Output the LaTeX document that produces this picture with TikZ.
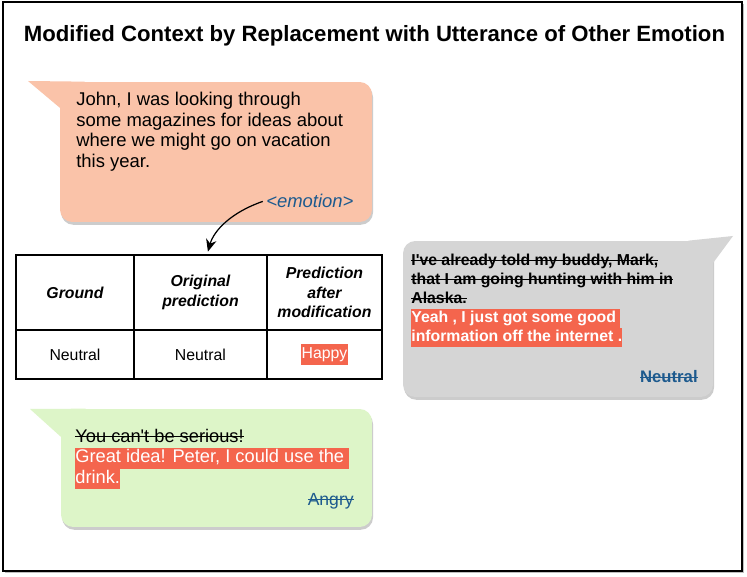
\documentclass[tikz,border=0pt]{standalone}
\usepackage{fontspec}
\setmainfont{Liberation Sans}
\usetikzlibrary{shadows}
\usetikzlibrary{positioning}
\usetikzlibrary{arrows.meta}

\definecolor{peach}{HTML}{FAC3A9}
\definecolor{bubblegray}{HTML}{D5D5D5}
\definecolor{mint}{HTML}{DDF5C8}
\definecolor{hilite}{HTML}{F4654D}
\definecolor{emoblue}{HTML}{1D5A8E}

\newlength{\strikelen}
\newcommand{\strike}[1]{\settowidth{\strikelen}{#1}\rlap{\rule[0.26em]{\strikelen}{0.55pt}}#1}
\newcommand{\hilight}[1]{{\setlength{\fboxsep}{0pt}\colorbox{hilite}{\color{white}\strut #1}}}

\begin{document}
\begin{tikzpicture}
    [x=0.02cm, y=-0.02cm,
    bubble/.style={rounded corners=7pt, inner sep=0pt, drop shadow={shadow xshift=0.6pt, shadow yshift=-1.6pt, opacity=0.4}},
    saytext/.style={anchor=north west, inner sep=0pt, align=left},
    cell/.style={draw, line width=0.75pt, inner sep=0pt, outer sep=0pt, align=center, font=\fontsize{9}{11}\selectfont\bfseries\itshape},
    valcell/.style={cell, font=\fontsize{9}{11}\selectfont},
    emolabel/.style={anchor=base east, inner sep=0pt, text=emoblue}]

    \useasboundingbox (0,0) rectangle (747,577);
    \draw [line width=1.2pt, fill=white, drop shadow={shadow xshift=1pt, shadow yshift=-1pt, opacity=0.5}] (3,2) rectangle (742,571);

    \node[font=\fontsize{12.6}{14}\selectfont\bfseries, anchor=base] (title) at (374.5,42) {Modified Context by Replacement with Utterance of Other Emotion};

    % first speaker
    \node[bubble, fill=peach, minimum width=6.24cm, minimum height=2.8cm] (peach) at (216,152) {};
    \coordinate (peachtip) at (28,81);
    \fill [peach] (peachtip) -- ([xshift=0.5cm]peach.north west) -- ([yshift=-0.52cm]peach.north west) -- cycle;
    \node[saytext, font=\fontsize{10.5}{11.7}\selectfont] (peachtext) at (76,92) {John, I was looking through\\some magazines for ideas about\\where we might go on vacation\\this year.};
    \node[emolabel, font=\fontsize{10.5}{12}\selectfont\itshape, outer sep=2pt] (emotion) at (357,208) {<emotion>};

    % table
    \node[cell, minimum width=2.36cm, minimum height=1.5cm] (ground) at (75,292.5) {Ground};
    \node[cell, minimum width=2.66cm, minimum height=1.5cm, right=0pt of ground] (orig) {Original\\prediction};
    \node[cell, minimum width=2.3cm, minimum height=1.5cm, right=0pt of orig] (after) {Prediction\\after\\modification};
    \node[valcell, minimum width=2.36cm, minimum height=0.98cm, below=0pt of ground] (groundval) {Neutral};
    \node[valcell, minimum width=2.66cm, minimum height=0.98cm, below=0pt of orig] (origval) {Neutral};
    \node[valcell, minimum width=2.3cm, minimum height=0.98cm, below=0pt of after] (afterval) {{\setlength{\fboxsep}{0.6pt}\colorbox{hilite}{\color{white}\strut Happy}}};

    \draw [-{Stealth[length=7pt,width=6pt]}, line width=0.7pt, shorten >=2pt] (emotion.west) .. controls (232,212) and (214,230) .. ([xshift=0.13cm]orig.north);

    % second speaker
    \node[bubble, fill=bubblegray, minimum width=6.2cm, minimum height=3.12cm] (gray) at (558,319) {};
    \coordinate (graytip) at (733,236);
    \fill [bubblegray] (graytip) -- ([xshift=-0.5cm]gray.north east) -- ([yshift=-0.44cm]gray.north east) -- cycle;
    \node[saytext, font=\fontsize{9}{10.8}\selectfont\bfseries] (graytext) at (411,253.5) {\strike{I\textquotesingle ve already told my buddy, Mark,}\\\strike{that I am going hunting with him in}\\\strike{Alaska.}\\\hilight{Yeah , I just got some good\ }\\\hilight{information off the internet .}};
    \node[emolabel, font=\fontsize{9.5}{11}\selectfont\bfseries] (graylabel) at (698,382) {\strike{Neutral}};

    % reply
    \node[bubble, fill=mint, minimum width=6.22cm, minimum height=2.36cm] (green) at (216.5,468) {};
    \coordinate (greentip) at (30,409);
    \fill [mint] (greentip) -- ([xshift=0.5cm]green.north west) -- ([yshift=-0.56cm]green.north west) -- cycle;
    \node[saytext, font=\fontsize{10.4}{11.7}\selectfont] (greentext) at (75,428.5) {\strike{You can\textquotesingle t be serious!}\\\hilight{Great idea! Peter, I could use the\ }\\\hilight{drink.}};
    \node[emolabel, font=\fontsize{10}{12}\selectfont] (greenlabel) at (354,505) {\strike{Angry}};
\end{tikzpicture}
\end{document}
